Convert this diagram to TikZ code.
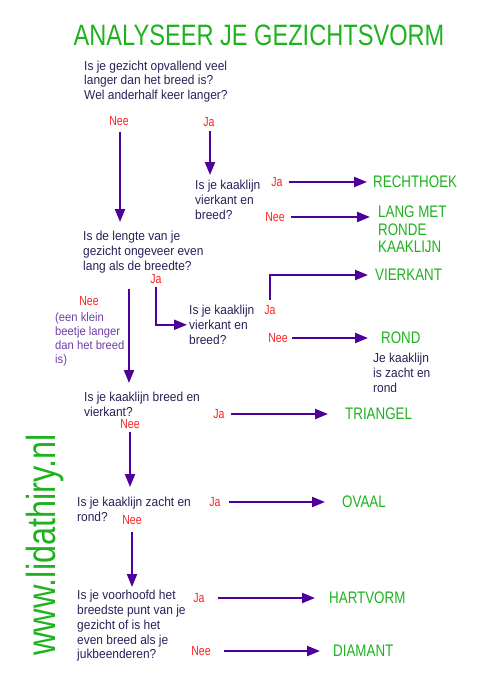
\documentclass[tikz,border=0pt]{standalone}
\usepackage{fontspec}
\setmainfont{Liberation Sans}[FakeStretch=0.92]
\newfontfamily\tallsans{Liberation Sans}[FakeStretch=0.8]
\usetikzlibrary{arrows.meta,positioning}
\definecolor{kopgroen}{RGB}{30,178,30}
\definecolor{vraagblauw}{RGB}{42,32,88}
\definecolor{labelrood}{RGB}{250,35,35}
\definecolor{pijlpaars}{RGB}{78,0,155}
\definecolor{notitiepaars}{RGB}{112,62,165}

\begin{document}
\begin{tikzpicture}[
  x=1pt, y=-1pt,
  vraag/.style={anchor=north west, align=left, inner sep=0pt, text=vraagblauw, font=\fontsize{13}{14.8}\selectfont},
  notitie/.style={vraag, text=notitiepaars, font=\fontsize{12.2}{14}\selectfont},
  keuze/.style={inner sep=0pt, text=labelrood, font=\tallsans\fontsize{13.2}{14}\selectfont},
  uitkomst/.style={anchor=west, align=left, inner sep=0pt, text=kopgroen, font=\tallsans\fontsize{16.7}{17.5}\selectfont},
  titel/.style={anchor=base, inner sep=0pt, text=kopgroen, font=\tallsans\fontsize{29.5}{30}\selectfont},
  site/.style={anchor=base, rotate=90, inner sep=0pt, text=kopgroen, font=\tallsans\fontsize{40.5}{42}\selectfont},
  arr/.style={-{Triangle[length=13pt,width=10pt]}, line width=2.2pt, draw=pijlpaars}
]
  \useasboundingbox (0,0) rectangle (484,689);
  \node[titel] (titel) at (259,45) {ANALYSEER JE GEZICHTSVORM};
  \node[vraag] (v1) at (84,60.5) {Is je gezicht opvallend veel\\langer dan het breed is?\\Wel anderhalf keer langer?};
  \node[keuze] (nee1) at (119,121) {Nee};
  \node[keuze] (ja1) at (209,122) {Ja};
  \node[vraag] (v2) at (195,180) {Is je kaaklijn\\vierkant en\\breed?};
  \node[keuze] (ja2) at (277,182) {Ja};
  \node[uitkomst] (rechthoek) at (373,182) {RECHTHOEK};
  \node[keuze] (nee2) at (275,217) {Nee};
  \node[uitkomst, anchor=north west] (langmet) at (378,206) {LANG MET\\RONDE\\KAAKLIJN};
  \node[vraag] (v3) at (83,231) {Is de lengte van je\\gezicht ongeveer even\\lang als de breedte?};
  \node[keuze] (ja3) at (156,279) {Ja};
  \node[keuze] (nee3) at (89,301) {Nee};
  \node[notitie] (klein) at (55,312) {(een klein\\beetje langer\\dan het breed\\is)};
  \node[vraag] (v4) at (189,305) {Is je kaaklijn\\vierkant en\\breed?};
  \node[keuze] (ja4) at (270,310) {Ja};
  \node[uitkomst] (vierkant) at (375,275) {VIERKANT};
  \node[keuze] (nee4) at (278,338) {Nee};
  \node[uitkomst] (rond) at (381,338) {ROND};
  \node[vraag] (zacht) at (373,353) {Je kaaklijn\\is zacht en\\rond};
  \node[vraag] (v5) at (84,392) {Is je kaaklijn breed en\\vierkant?};
  \node[keuze] (ja5) at (219,414) {Ja};
  \node[uitkomst] (triangel) at (345,414) {TRIANGEL};
  \node[keuze] (nee5) at (130,424) {Nee};
  \node[vraag] (v6) at (77,497) {Is je kaaklijn zacht en\\rond?};
  \node[keuze] (ja6) at (215,502) {Ja};
  \node[uitkomst] (ovaal) at (342,502) {OVAAL};
  \node[keuze] (nee6) at (132,520) {Nee};
  \node[vraag] (v7) at (77,590) {Is je voorhoofd het\\breedste punt van je\\gezicht of is het\\even breed als je\\jukbeenderen?};
  \node[keuze] (ja7) at (199,598) {Ja};
  \node[uitkomst] (hartvorm) at (329,598) {HARTVORM};
  \node[keuze] (nee7) at (201,651) {Nee};
  \node[uitkomst] (diamant) at (333,651) {DIAMANT};
  \node[site] (site) at (55,545) {www.lidathiry.nl};
  \draw[arr, shorten <=6pt, shorten >=9pt] ([xshift=1pt]nee1.south) -- ([xshift=1pt]nee1.south |- v3.north);
  \draw[arr, shorten <=4pt, shorten >=5pt] ([xshift=1pt]ja1.south) -- ([xshift=1pt]ja1.south |- v2.north);
  \draw[arr, shorten <=6pt, shorten >=6pt] (ja2) -- (rechthoek);
  \draw[arr, shorten <=6pt, shorten >=8pt] (nee2.east) -- (nee2.east -| langmet.west);
  \draw[arr, shorten <=3pt, shorten >=2pt] (ja3.south) |- (v4.west);
  \draw[arr, shorten <=16pt, shorten >=9pt] ([xshift=46pt]v3.south west) -- ([xshift=46pt]v3.south west |- v5.north);
  \draw[arr, shorten <=5pt, shorten >=7pt] (ja4.north) |- (vierkant.west);
  \draw[arr, shorten <=4pt, shorten >=13pt] (nee4) -- (rond);
  \draw[arr, shorten <=6pt, shorten >=17pt] (ja5) -- (triangel);
  \draw[arr, shorten <=3pt, shorten >=10pt] (nee5.south) -- (nee5.south |- v6.north);
  \draw[arr, shorten <=8pt, shorten >=17pt] (ja6) -- (ovaal);
  \draw[arr, shorten <=7pt, shorten >=3pt] (nee6.south) -- (nee6.south |- v7.north);
  \draw[arr, shorten <=13pt, shorten >=14pt] (ja7) -- (hartvorm);
  \draw[arr, shorten <=13pt, shorten >=13pt] (nee7) -- (diamant);
\end{tikzpicture}
\end{document}
